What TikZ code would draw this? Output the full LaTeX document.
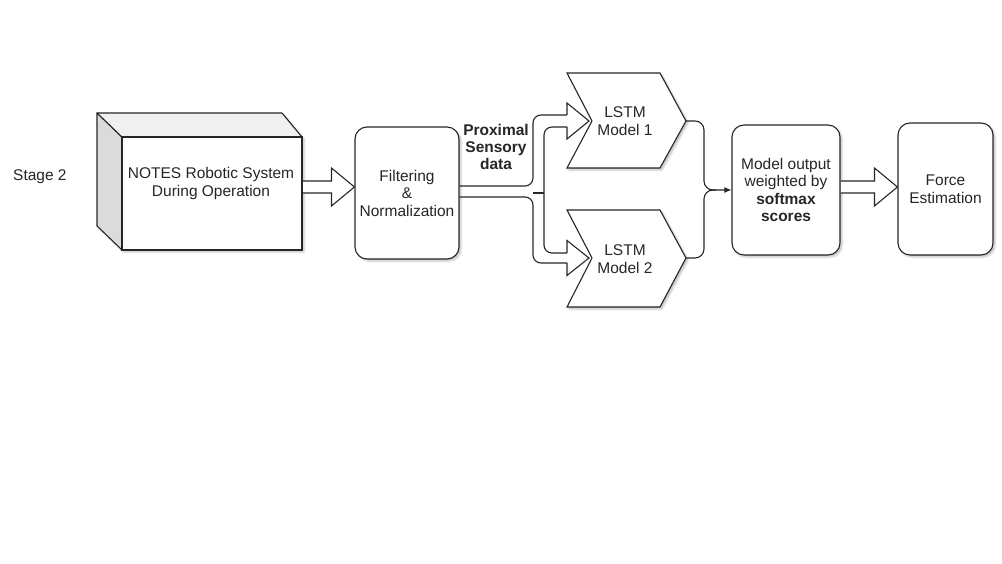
\documentclass[tikz,border=0pt]{standalone}
\usepackage{fontspec}
\setmainfont{Liberation Sans}
\usetikzlibrary{calc,arrows.meta,shadows.blur}

% hollow block arrow: #1 start point, #2 tip point (same height)
\newcommand{\hollowarrow}[2]{%
  \draw[hollow] let \p1=#1, \p2=#2 in
    (\x1+0.5pt,\y2+6pt) -- (\x2-23pt,\y2+6pt) -- (\x2-23pt,\y2+19pt) -- (\x2,\y2)
    -- (\x2-23pt,\y2-19pt) -- (\x2-23pt,\y2-6pt) -- (\x1+0.5pt,\y2-6pt);}

\begin{document}
\begin{tikzpicture}[x=1pt,y=-1pt,
  every node/.style={font=\fontsize{15.5}{17.5}\selectfont, align=center, text=black!85},
  shade/.style={blur shadow={shadow xshift=2pt, shadow yshift=-2pt, shadow blur radius=2pt, shadow opacity=25}},
  box/.style={draw=black!85, line width=1.1pt, fill=white, rounded corners=12pt, shade, inner sep=0pt},
  chev/.style={draw=black!85, line width=1.1pt, fill=white, line join=miter, shade},
  edge/.style={draw=black!85, line width=1.1pt},
  hollow/.style={edge, fill=white, line join=miter},
  boldtext/.style={font=\fontsize{15.5}{17}\selectfont\bfseries},
]
\useasboundingbox (0,0) rectangle (1002,564);

% stage title
\node[anchor=west, inner sep=0pt] (stage) at (13,177) {Stage 2};

% robotic system drawn as a cube
\path[fill=white, shade] (97,113) -- (282,113) -- (302,137) -- (302,250) -- (122,250) -- (97,226) -- cycle;
\draw[edge, fill=black!14, line join=round] (97,113) -- (122,137) -- (122,250) -- (97,226) -- cycle;
\draw[edge, fill=black!6, line join=round] (97,113) -- (282,113) -- (302,137) -- (122,137) -- cycle;
\node[draw=black!85, line width=1.1pt, fill=white, minimum width=180pt, minimum height=113pt, inner sep=0pt] (robot) at (212,193.5) {};
\node (robotlabel) at (211,183.5) {NOTES Robotic System\\During Operation};

% preprocessing
\node[box, minimum width=104pt, minimum height=132pt] (filter) at (407,193) {Filtering\\\&\\Normalization};
\hollowarrow{(robot.east |- 0,187)}{(filter.west |- 0,187)}

\node[boldtext, inner sep=0pt] (prox) at (496,147) {Proximal\\Sensory\\data};

% two LSTM models
\draw[chev] (567,73) -- (660,73) -- (686,121) -- (660,168) -- (567,168) -- (592,121) -- cycle;
\node (lstm1) at (625,121) {LSTM\\Model 1};
\coordinate (lstm1out) at (686,121);
\draw[chev] (567,210) -- (660,210) -- (686,258) -- (660,307) -- (567,307) -- (592,258) -- cycle;
\node (lstm2) at (625,259) {LSTM\\Model 2};
\coordinate (lstm2out) at (686,258);

% branching block arrow feeding both models
\draw[edge, rounded corners=8pt] (filter.east |- 0,186) -- (533,186) -- (533,115) -- (567.5,115);
\draw[edge, rounded corners=8pt] (filter.east |- 0,197) -- (533,197) -- (533,263) -- (567.5,263);
\draw[edge, rounded corners=8pt] (567.5,127) -- (544,127) -- (544,253) -- (567.5,253);
\draw[edge] (533,193) -- (544,193);
\draw[hollow] (567,115) -- (567,103) -- (589,121) -- (567,139) -- (567,127);
\draw[hollow] (567,253) -- (567,240.5) -- (589,258) -- (567,275.5) -- (567,263);

% weighting and output
\node[box, minimum width=108pt, minimum height=130pt] (model) at (786,190)
  {\fontsize{15.5}{18.5}\selectfont Model output\\weighted by\\\textbf{softmax}\\\textbf{scores}};
\node[box, minimum width=95pt, minimum height=132pt] (force) at (945.5,189) {Force\\Estimation};

\draw[edge, rounded corners=9pt, -{Latex[length=7pt,width=6pt]}] (lstm1out) -- (704,121) -- (704,190) -- (model.west |- 0,190);
\draw[edge, rounded corners=9pt] (lstm2out) -- (704,258) -- (704,190) -- (716,190);

\hollowarrow{(model.east |- 0,187)}{(force.west |- 0,187)}
\end{tikzpicture}
\end{document}
